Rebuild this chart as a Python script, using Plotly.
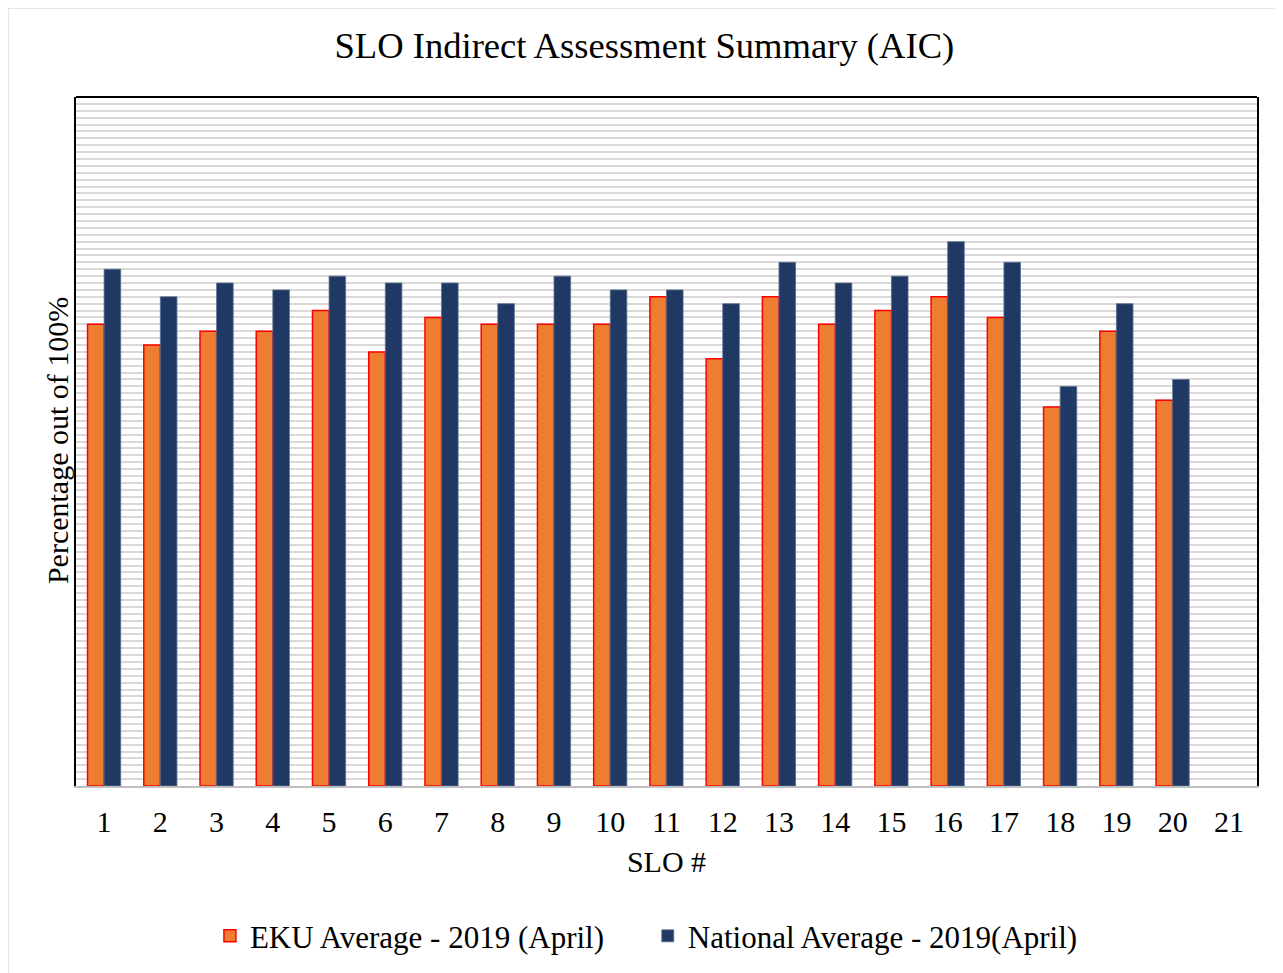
import plotly.graph_objects as go

slo = [str(i) for i in range(1, 22)]
eku = [67, 64, 66, 66, 69, 63, 68, 67, 67, 67, 71, 62, 71, 67, 69, 71, 68, 55, 66, 56, None]
national = [75, 71, 73, 72, 74, 73, 73, 70, 74, 72, 72, 70, 76, 73, 74, 79, 76, 58, 70, 59, None]

FONT = "Liberation Serif"

fig = go.Figure()
fig.add_trace(go.Bar(x=slo, y=eku, name="EKU Average - 2019 (April)     ",
                     marker=dict(color="#ED7D31", line=dict(color="#FF0000", width=1.5))))
fig.add_trace(go.Bar(x=slo, y=national, name="National Average - 2019(April)",
                     marker=dict(color="#1F3864", line=dict(color="#5B6E8F", width=0.8))))

fig.update_layout(
    width=1283, height=973,
    margin=dict(l=68, r=34, t=89, b=195),
    paper_bgcolor="white", plot_bgcolor="white",
    barmode="group", bargap=0.41, bargroupgap=0,
    font=dict(family=FONT, size=30, color="black"),
    title=dict(text="SLO Indirect Assessment Summary (AIC)", x=0.496, xanchor="center",
               y=1 - 37 / 973, yanchor="middle", yref="container",
               font=dict(family=FONT, size=36.6, color="black")),
    legend=dict(orientation="h", x=0.483, xanchor="center", y=-0.218, yanchor="middle",
                font=dict(family=FONT, size=31), itemwidth=30, traceorder="normal"),
    showlegend=True,
)
fig.update_xaxes(showline=True, linecolor="#BFBFBF", linewidth=2, ticks="",
                 ticklabelstandoff=8,
                 title=dict(text="SLO #", standoff=14, font=dict(family=FONT, size=30)),
                 tickfont=dict(family=FONT, size=30))
fig.update_yaxes(range=[0, 100], dtick=1, showgrid=True, gridcolor="#D9D9D9", gridwidth=1.5,
                 showticklabels=False, ticks="", zeroline=False,
                 showline=True, linecolor="black", linewidth=2, mirror=True)
fig.add_annotation(text="Percentage out of 100%", xref="paper", yref="paper",
                   x=-0.0161, y=0.502, xanchor="center", yanchor="middle", textangle=-90,
                   showarrow=False, font=dict(family=FONT, size=30, color="black"))
fig.add_shape(type="line", xref="paper", yref="paper", x0=0, x1=1, y0=1, y1=1,
              line=dict(color="black", width=2))
fig.add_shape(type="rect", xref="paper", yref="paper", x0=-0.058, x1=1.03, y0=-0.3, y1=1.13,
              line=dict(color="#D0D0D0", width=2), layer="below")

fig.write_html("out.html")
